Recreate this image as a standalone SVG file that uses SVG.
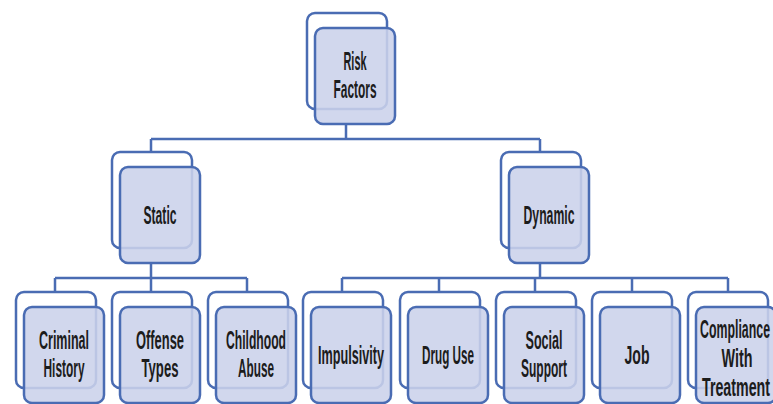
<svg xmlns="http://www.w3.org/2000/svg" width="773" height="404" viewBox="0 0 773 404">
<style>
.bk{fill:#ffffff;stroke:#4a6cb3;stroke-width:2.5}
.fr{fill:#cbd2ea;fill-opacity:0.88;stroke:#4a6cb3;stroke-width:2.5}
.ln{stroke:#4a6cb3;stroke-width:2.5;fill:none}
text{font-family:"Liberation Sans","Arial",sans-serif;font-weight:bold;font-size:26px;fill:#1c1c1c;text-anchor:middle}
</style>
<defs>
<g id="box"><rect class="bk" x="0" y="0" width="80" height="96" rx="8"/><rect class="fr" x="8" y="15" width="80" height="96" rx="8"/></g>
</defs>
<g id="connectors">
<path class="ln" d="M346 124V139M151 139H540M151 139V152M540 139V152"/>
<path class="ln" d="M151 263V278M55 278H247M55 278V292M151 278V292M247 278V292"/>
<path class="ln" d="M540 263V278M342 278H728M342 278V292M439 278V292M535 278V292M632 278V292M728 278V292"/>
</g>
<g id="risk"><use href="#box" x="307" y="13"/><text transform="translate(355 70) scale(0.5 1)" textLength="46" lengthAdjust="spacingAndGlyphs">Risk</text><text transform="translate(355 98) scale(0.5 1)" textLength="86" lengthAdjust="spacingAndGlyphs">Factors</text></g>
<g id="static"><use href="#box" x="112" y="152"/><text transform="translate(160 224) scale(0.5 1)" textLength="66" lengthAdjust="spacingAndGlyphs">Static</text></g>
<g id="dynamic"><use href="#box" x="501" y="152"/><text transform="translate(549 224) scale(0.5 1)" textLength="102" lengthAdjust="spacingAndGlyphs">Dynamic</text></g>
<g id="criminal"><use href="#box" x="16" y="292"/><text transform="translate(64 349) scale(0.5 1)" textLength="100" lengthAdjust="spacingAndGlyphs">Criminal</text><text transform="translate(64 377) scale(0.5 1)" textLength="82" lengthAdjust="spacingAndGlyphs">History</text></g>
<g id="offense"><use href="#box" x="112" y="292"/><text transform="translate(160 349) scale(0.5 1)" textLength="96" lengthAdjust="spacingAndGlyphs">Offense</text><text transform="translate(160 377) scale(0.5 1)" textLength="74" lengthAdjust="spacingAndGlyphs">Types</text></g>
<g id="childhood"><use href="#box" x="208" y="292"/><text transform="translate(256 349) scale(0.5 1)" textLength="120" lengthAdjust="spacingAndGlyphs">Childhood</text><text transform="translate(256 377) scale(0.5 1)" textLength="72" lengthAdjust="spacingAndGlyphs">Abuse</text></g>
<g id="impulsivity"><use href="#box" x="303" y="292"/><text transform="translate(351 364) scale(0.5 1)" textLength="132" lengthAdjust="spacingAndGlyphs">Impulsivity</text></g>
<g id="druguse"><use href="#box" x="400" y="292"/><text transform="translate(448 364) scale(0.5 1)" textLength="104" lengthAdjust="spacingAndGlyphs">Drug Use</text></g>
<g id="social"><use href="#box" x="496" y="292"/><text transform="translate(544 349) scale(0.5 1)" textLength="74" lengthAdjust="spacingAndGlyphs">Social</text><text transform="translate(544 377) scale(0.5 1)" textLength="92" lengthAdjust="spacingAndGlyphs">Support</text></g>
<g id="job"><use href="#box" x="592" y="292"/><text transform="translate(637 364) scale(0.5 1)" textLength="50" lengthAdjust="spacingAndGlyphs">Job</text></g>
<g id="compliance"><use href="#box" x="688" y="292"/><text transform="translate(735 338) scale(0.5 1)" textLength="140" lengthAdjust="spacingAndGlyphs">Compliance</text><text transform="translate(737 367) scale(0.5 1)" textLength="62" lengthAdjust="spacingAndGlyphs">With</text><text transform="translate(736 396) scale(0.5 1)" textLength="136" lengthAdjust="spacingAndGlyphs">Treatment</text></g>
</svg>
